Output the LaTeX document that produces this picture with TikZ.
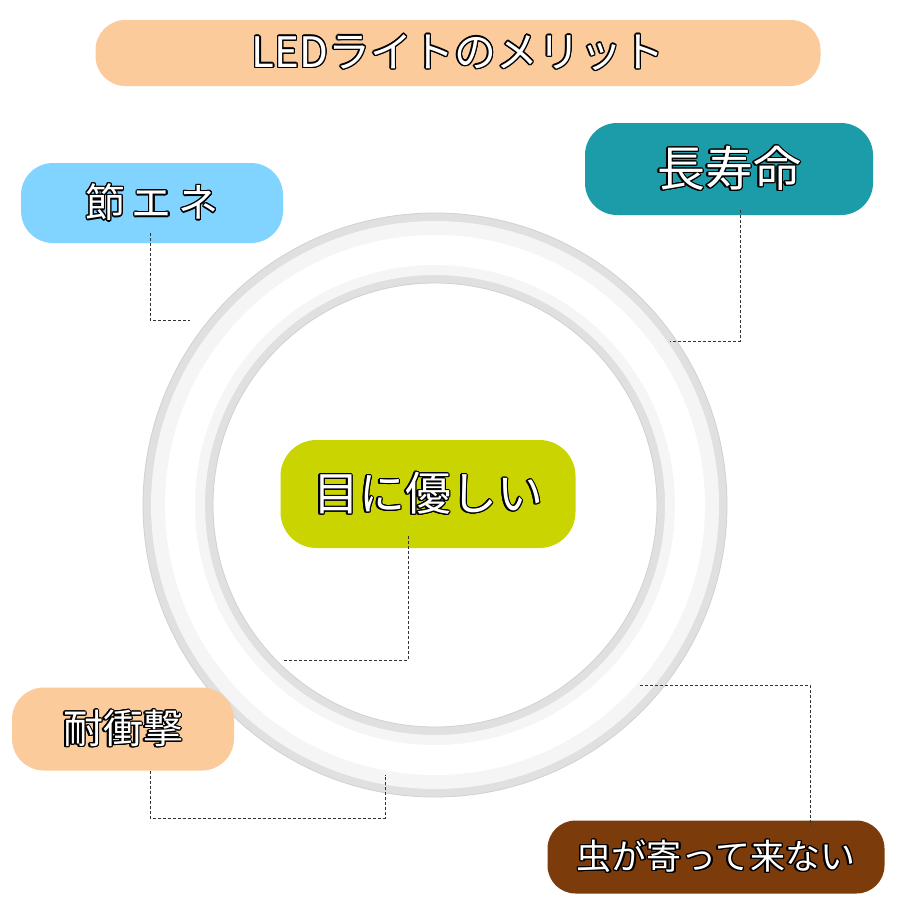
\documentclass[tikz,border=0pt]{standalone}
\usepackage{fontspec}
\setmainfont{Noto Sans CJK JP}
\usepackage[copies]{contour}
\contourlength{1.3pt}
\definecolor{peach}{HTML}{FBCB9C}
\definecolor{skyblue}{HTML}{80D4FF}
\definecolor{tealbox}{HTML}{1C9CA8}
\definecolor{limebox}{HTML}{C9D400}
\definecolor{brownbox}{HTML}{7B3B0B}
\newcommand{\outl}[1]{\textcolor{white}{\contour{black}{#1}}}
\tikzset{
  merit/.style={rounded corners=32pt, inner sep=0pt, font=\fontsize{40}{40}\selectfont},
  leader/.style={densely dashed, line width=0.9pt, black!80}
}
\begin{document}
\begin{tikzpicture}[x=1pt,y=-1pt]
  \useasboundingbox[fill=white] (0,0) rectangle (900,900);

  % ring
  \fill[black!12, even odd rule] (435,505) circle (292) (435,505) circle (222);
  \fill[black!4, even odd rule] (435,505) circle (284) (435,505) circle (230);
  \fill[white, even odd rule] (435,505) circle (270) (435,505) circle (240);
  \draw[black!18, line width=0.8pt] (435,505) circle (292) (435,505) circle (222);

  % title
  \node[merit, fill=peach, minimum width=725pt, minimum height=66pt, rounded corners=30pt] (title) at (458,53)
    {\fontsize{42}{42}\selectfont\outl{LEDライトのメリット}};

  % boxes
  \node[merit, fill=skyblue, minimum width=262pt, minimum height=80pt] (save) at (152,203) {\outl{節\,エ\,ネ}};
  \node[merit, fill=tealbox, minimum width=288pt, minimum height=92pt, font=\fontsize{48}{48}\selectfont] (life) at (729,169) {\outl{長寿命}};
  \node[merit, fill=limebox, minimum width=295pt, minimum height=108pt, rounded corners=36pt, font=\fontsize{46}{46}\selectfont] (eye) at (428,494) {\outl{目に優しい}};
  \node[merit, fill=peach, minimum width=222pt, minimum height=83pt] (shock) at (123,729) {\outl{耐衝撃}};
  \node[merit, fill=brownbox, minimum width=337pt, minimum height=73pt, rounded corners=28pt, font=\fontsize{35}{35}\selectfont] (bug) at (716,857) {\outl{虫が寄って来ない}};

  % leaders
  \coordinate (p1) at (190,320);
  \coordinate (p2) at (670,341);
  \coordinate (p3) at (283,660);
  \coordinate (p4) at (385,775);
  \coordinate (p5) at (640,685);
  \draw[leader] ([yshift=10pt]save.south -| 150,0) -- (150,320) -- (p1);
  \draw[leader] ([yshift=5pt]life.south -| 740,0) -- (740,341) -- (p2);
  \draw[leader] ([yshift=12pt]eye.south -| 408,0) -- (408,660) -- (p3);
  \draw[leader] (shock.south -| 150,0) -- (150,818) -- (385,818) -- (p4);
  \draw[leader] (p5) -- (810,685) -- ([yshift=-5pt]bug.north -| 810,0);
\end{tikzpicture}
\end{document}
